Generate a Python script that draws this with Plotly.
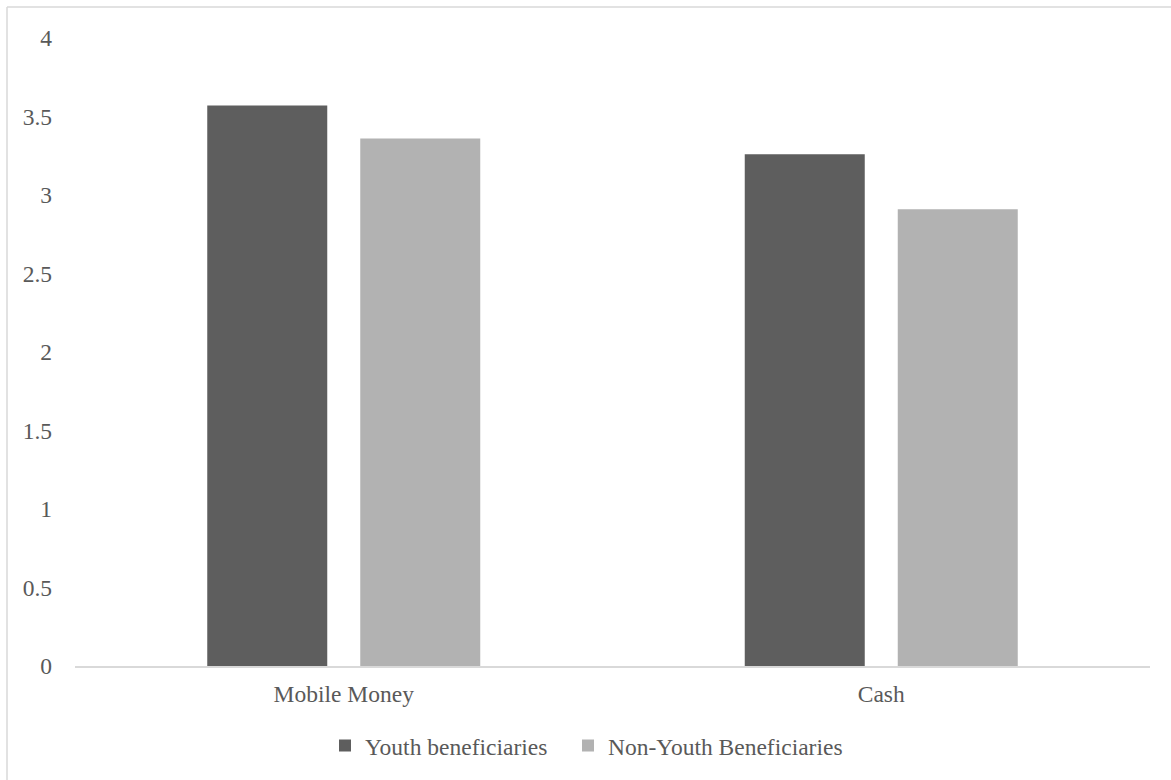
import plotly.graph_objects as go

categories = ["Mobile Money", "Cash"]
youth = [3.57, 3.26]
non_youth = [3.36, 2.91]
series_names = ["Youth beneficiaries", "Non-Youth Beneficiaries"]
tick_vals = [0, 0.5, 1, 1.5, 2, 2.5, 3, 3.5, 4]
tick_text = ["0", "0.5", "1", "1.5", "2", "2.5", "3", "3.5", "4"]

FONT = '"Times New Roman", "Liberation Serif", "DejaVu Serif", serif'
TXT = "#595959"
FS = 23.5

fig = go.Figure()
fig.add_trace(go.Bar(x=categories, y=youth, name=series_names[0], legend="legend",
                     marker=dict(color="#5e5e5e", line=dict(width=0))))
fig.add_trace(go.Bar(x=categories, y=non_youth, name=series_names[1], legend="legend2",
                     marker=dict(color="#b2b2b2", line=dict(width=0))))

ytop = (668 - 7) / 630
xleft = (7 - 75) / 1075
leg_common = dict(orientation="h", xanchor="left", y=-0.127, yanchor="middle",
                  font=dict(family=FONT, size=FS, color=TXT), bgcolor="rgba(0,0,0,0)")

fig.update_layout(
    width=1171, height=780,
    margin=dict(l=75, r=21, t=38, b=112),
    paper_bgcolor="white", plot_bgcolor="white",
    barmode="group", bargap=0.4307, bargroupgap=0.2157,
    font=dict(family=FONT, size=FS, color=TXT),
    showlegend=True,
    legend=dict(x=(325 - 75) / 1075, **leg_common),
    legend2=dict(x=(568 - 75) / 1075, **leg_common),
    xaxis=dict(showgrid=False, showline=True, linecolor="#d9d9d9", linewidth=1.5,
               ticks="", tickfont=dict(family=FONT, size=FS, color=TXT), ticklabelstandoff=6),
    yaxis=dict(range=[0, 4], tickvals=tick_vals, ticktext=tick_text, showgrid=False,
               zeroline=False, showline=False, ticks="",
               tickfont=dict(family=FONT, size=FS, color=TXT), ticklabelstandoff=22),
    shapes=[
        dict(type="line", xref="paper", yref="paper",
             x0=xleft, x1=(1180 - 75) / 1075, y0=ytop, y1=ytop,
             line=dict(color="#d9d9d9", width=1.5)),
        dict(type="line", xref="paper", yref="paper",
             x0=xleft, x1=xleft, y0=(668 - 790) / 630, y1=ytop,
             line=dict(color="#d9d9d9", width=1.5)),
    ],
)

fig.write_html("out.html")
